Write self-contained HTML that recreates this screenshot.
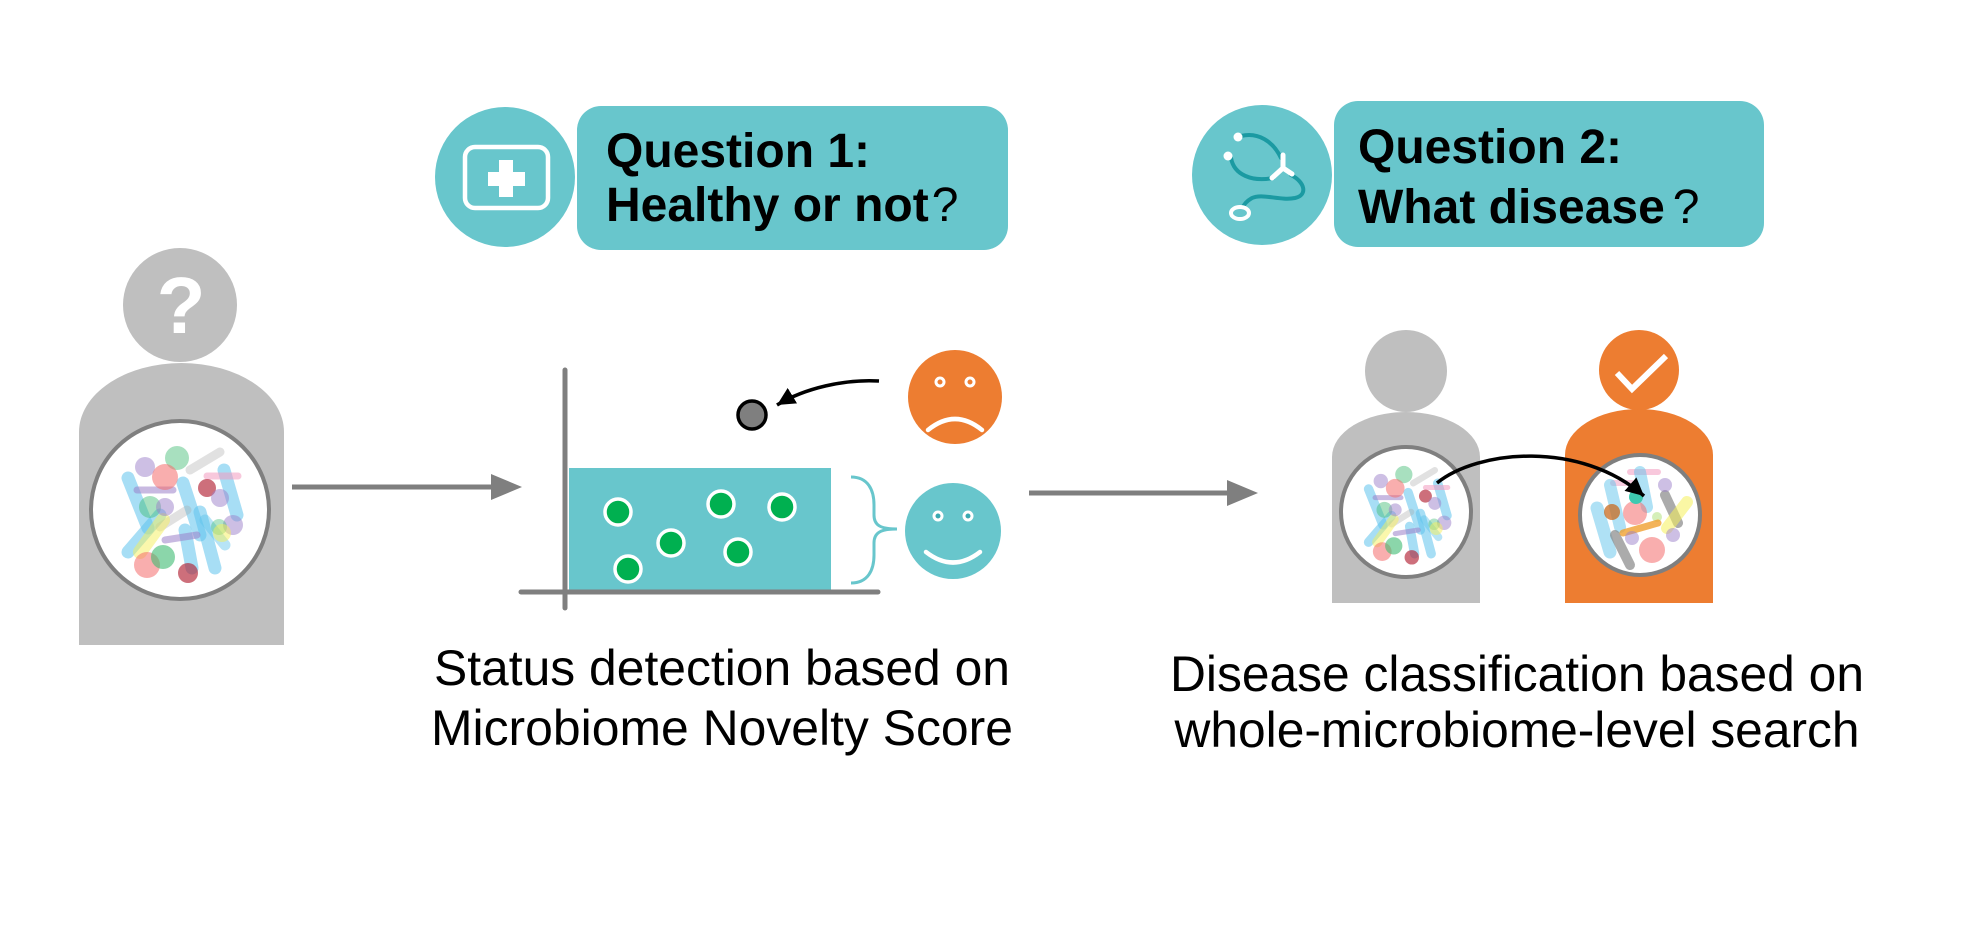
<!DOCTYPE html>
<html>
<head>
<meta charset="utf-8">
<style>
  html,body{margin:0;padding:0;background:#fff;}
  svg{display:block;}
</style>
</head>
<body>
<svg width="1973" height="926" viewBox="0 0 1973 926" xmlns="http://www.w3.org/2000/svg">
  <defs>
    <marker id="ah" viewBox="0 0 10 10" refX="10" refY="5" markerWidth="18" markerHeight="18" markerUnits="userSpaceOnUse" orient="auto">
      <path d="M0,0 L10,5 L0,10 z" fill="#000"/>
    </marker>
    <clipPath id="clipL"><circle cx="180" cy="510" r="88"/></clipPath>
    <clipPath id="clipR"><circle cx="1640" cy="515" r="58"/></clipPath>
    <g id="mic">
      <g stroke-linecap="round" fill="none">
        <line x1="128" y1="478" x2="148" y2="528" stroke="#5fc3ec" stroke-width="13" opacity=".55"/>
        <line x1="128" y1="552" x2="160" y2="515" stroke="#5fc3ec" stroke-width="13" opacity=".55"/>
        <line x1="183" y1="483" x2="200" y2="535" stroke="#5fc3ec" stroke-width="13" opacity=".55"/>
        <line x1="224" y1="470" x2="237" y2="515" stroke="#5fc3ec" stroke-width="13" opacity=".55"/>
        <line x1="185" y1="530" x2="192" y2="568" stroke="#5fc3ec" stroke-width="13" opacity=".55"/>
        <line x1="200" y1="512" x2="215" y2="568" stroke="#5fc3ec" stroke-width="13" opacity=".55"/>
        <line x1="205" y1="520" x2="225" y2="545" stroke="#5fc3ec" stroke-width="11" opacity=".45"/>
        <line x1="190" y1="470" x2="220" y2="452" stroke="#aaaaaa" stroke-width="9" opacity=".35"/>
        <line x1="207" y1="476" x2="238" y2="476" stroke="#f29ac0" stroke-width="7" opacity=".55"/>
        <line x1="137" y1="490" x2="173" y2="490" stroke="#9b7fc9" stroke-width="7" opacity=".55"/>
        <line x1="160" y1="527" x2="187" y2="510" stroke="#aaaaaa" stroke-width="9" opacity=".35"/>
        <line x1="140" y1="552" x2="163" y2="520" stroke="#f5f05a" stroke-width="14" opacity=".5"/>
        <line x1="165" y1="540" x2="197" y2="535" stroke="#9b7fc9" stroke-width="7" opacity=".55"/>
      </g>
      <circle cx="145" cy="467" r="10" fill="#9b7fc9" opacity=".5"/>
      <circle cx="177" cy="458" r="12" fill="#3dbb72" opacity=".45"/>
      <circle cx="165" cy="477" r="13" fill="#f46b6b" opacity=".55"/>
      <circle cx="207" cy="488" r="9" fill="#b22234" opacity=".65"/>
      <circle cx="220" cy="498" r="9" fill="#9b7fc9" opacity=".5"/>
      <circle cx="150" cy="507" r="11" fill="#3dbb72" opacity=".45"/>
      <circle cx="165" cy="507" r="9" fill="#9b7fc9" opacity=".5"/>
      <circle cx="233" cy="525" r="10" fill="#9b7fc9" opacity=".5"/>
      <circle cx="219" cy="527" r="8" fill="#3dbb72" opacity=".4"/>
      <circle cx="222" cy="533" r="9" fill="#f5f05a" opacity=".5"/>
      <circle cx="147" cy="565" r="13" fill="#f46b6b" opacity=".55"/>
      <circle cx="163" cy="557" r="12" fill="#3dbb72" opacity=".6"/>
      <circle cx="188" cy="573" r="10" fill="#b22234" opacity=".65"/>
    </g>
  </defs>

  <!-- ===== Left person ===== -->
  <circle cx="180" cy="305" r="57" fill="#bfbfbf"/>
  <text x="181" y="333" font-family="Liberation Sans, Arial, sans-serif" font-weight="bold" font-size="80" fill="#fff" text-anchor="middle">?</text>
  <path d="M79,645 V432 A102.5,69 0 0 1 284,432 V645 Z" fill="#bfbfbf"/>
  <circle cx="180" cy="510" r="89" fill="#fff" stroke="#7f7f7f" stroke-width="4"/>
  <g clip-path="url(#clipL)"><use href="#mic"/></g>

  <!-- arrow 1 -->
  <line x1="292" y1="487" x2="495" y2="487" stroke="#7f7f7f" stroke-width="5"/>
  <polygon points="491,474 522,487 491,500" fill="#7f7f7f"/>

  <!-- ===== Question 1 ===== -->
  <circle cx="505" cy="177" r="70" fill="#68c6cc"/>
  <rect x="465" y="147" width="83" height="61" rx="10" fill="none" stroke="#fff" stroke-width="4.5"/>
  <rect x="499" y="160" width="14" height="37" fill="#fff"/>
  <rect x="488" y="172" width="37" height="14" fill="#fff"/>
  <rect x="577" y="106" width="431" height="144" rx="24" fill="#68c6cc"/>
  <text font-family="Liberation Sans, Arial, sans-serif" font-weight="bold" font-size="48" fill="#000">
    <tspan x="606" y="167">Question 1:</tspan>
    <tspan x="606" y="221">Healthy or not<tspan font-weight="normal" dx="3">?</tspan></tspan>
  </text>

  <!-- ===== Chart ===== -->
  <rect x="569" y="468" width="262" height="122" fill="#68c6cc"/>
  <line x1="565" y1="370" x2="565" y2="608" stroke="#7f7f7f" stroke-width="5" stroke-linecap="round"/>
  <line x1="521" y1="592" x2="878" y2="592" stroke="#7f7f7f" stroke-width="5" stroke-linecap="round"/>
  <g fill="#00b050" stroke="#fff" stroke-width="3.5">
    <circle cx="618" cy="512" r="13"/>
    <circle cx="721" cy="504" r="13"/>
    <circle cx="782" cy="507" r="13"/>
    <circle cx="671" cy="543" r="13"/>
    <circle cx="738" cy="552" r="13"/>
    <circle cx="628" cy="569" r="13"/>
  </g>
  <circle cx="752" cy="415" r="14" fill="#7f7f7f" stroke="#000" stroke-width="3.5"/>
  <path d="M879,381 C845,379 805,388 777,405" fill="none" stroke="#000" stroke-width="3.5" marker-end="url(#ah)"/>
  <!-- brace -->
  <path d="M851,477 C868,477 874,490 874,505 L874,515 C874,525 880,529 897,529 C880,529 874,533 874,543 L874,555 C874,570 868,583 851,583" fill="none" stroke="#68c6cc" stroke-width="3"/>
  <!-- sad face -->
  <circle cx="955" cy="397" r="47" fill="#ed7d31"/>
  <circle cx="940" cy="382" r="4" fill="#ed7d31" stroke="#fff" stroke-width="3"/>
  <circle cx="970" cy="382" r="4" fill="#ed7d31" stroke="#fff" stroke-width="3"/>
  <path d="M928,430 Q955,408 982,430" fill="none" stroke="#fff" stroke-width="4.5" stroke-linecap="round"/>
  <!-- happy face -->
  <circle cx="953" cy="531" r="48" fill="#68c6cc"/>
  <circle cx="938" cy="516" r="4" fill="#3aa9b1" stroke="#fff" stroke-width="3"/>
  <circle cx="968" cy="516" r="4" fill="#3aa9b1" stroke="#fff" stroke-width="3"/>
  <path d="M926,552 Q953,573 980,552" fill="none" stroke="#fff" stroke-width="4.5" stroke-linecap="round"/>

  <!-- arrow 2 -->
  <line x1="1029" y1="493" x2="1230" y2="493" stroke="#7f7f7f" stroke-width="5"/>
  <polygon points="1227,480 1258,493 1227,506" fill="#7f7f7f"/>

  <!-- ===== Question 2 ===== -->
  <circle cx="1262" cy="175" r="70" fill="#68c6cc"/>
  <g fill="none" stroke="#1b9aa2" stroke-width="4" stroke-linecap="round">
    <path d="M1241,136 C1258,132 1273,141 1281,158"/>
    <path d="M1231,158 C1234,175 1252,182 1273,178"/>
    <path d="M1291,175 C1305,182 1308,195 1295,198 C1280,201 1262,193 1252,198 C1245,202 1243,206 1242,209"/>
  </g>
  <g stroke="#fff" stroke-width="5" stroke-linecap="round" fill="none">
    <path d="M1283,155 L1283,168 L1272,178"/>
    <path d="M1283,168 L1292,174"/>
  </g>
  <circle cx="1238" cy="137" r="4.5" fill="#fff"/>
  <circle cx="1228" cy="156" r="4.5" fill="#fff"/>
  <ellipse cx="1240" cy="213" rx="9" ry="6" fill="#68c6cc" stroke="#fff" stroke-width="4"/>
  <rect x="1334" y="101" width="430" height="146" rx="24" fill="#68c6cc"/>
  <text font-family="Liberation Sans, Arial, sans-serif" font-weight="bold" font-size="48" fill="#000">
    <tspan x="1358" y="163">Question 2:</tspan>
    <tspan x="1358" y="223">What disease<tspan font-weight="normal" dx="8">?</tspan></tspan>
  </text>

  <!-- ===== Gray person (right) ===== -->
  <circle cx="1406" cy="371" r="41" fill="#bfbfbf"/>
  <path d="M1332,603 V457 A74,45 0 0 1 1480,457 V603 Z" fill="#bfbfbf"/>
  <circle cx="1406" cy="512" r="65" fill="#fff" stroke="#7f7f7f" stroke-width="4"/>
  <g transform="translate(1406,512) scale(0.72) translate(-180,-510)">
    <g clip-path="url(#clipL)"><use href="#mic"/></g>
  </g>

  <!-- ===== Orange person ===== -->
  <circle cx="1639" cy="370" r="40" fill="#ed7d31"/>
  <path d="M1617,373 L1632,389 L1666,356" fill="none" stroke="#fff" stroke-width="6"/>
  <path d="M1565,603 V455 A74,46 0 0 1 1713,455 V603 Z" fill="#ed7d31"/>
  <circle cx="1640" cy="515" r="60" fill="#fff" stroke="#7f7f7f" stroke-width="4"/>
  <g clip-path="url(#clipR)">
    <g stroke-linecap="round" fill="none">
      <line x1="1630" y1="472" x2="1658" y2="472" stroke="#f29ac0" stroke-width="6" opacity=".55"/>
      <line x1="1640" y1="472" x2="1647" y2="507" stroke="#5fc3ec" stroke-width="12" opacity=".5"/>
      <line x1="1613" y1="483" x2="1632" y2="483" stroke="#f29ac0" stroke-width="6" opacity=".5"/>
      <line x1="1610" y1="485" x2="1620" y2="527" stroke="#5fc3ec" stroke-width="12" opacity=".5"/>
      <line x1="1597" y1="508" x2="1610" y2="552" stroke="#5fc3ec" stroke-width="13" opacity=".5"/>
      <line x1="1665" y1="495" x2="1678" y2="523" stroke="#888" stroke-width="10" opacity=".7"/>
      <line x1="1687" y1="502" x2="1667" y2="528" stroke="#f5f05a" stroke-width="12" opacity=".55"/>
      <line x1="1615" y1="535" x2="1630" y2="565" stroke="#888" stroke-width="10" opacity=".7"/>
    </g>
    <circle cx="1665" cy="485" r="7" fill="#9b7fc9" opacity=".5"/>
    <circle cx="1612" cy="512" r="8" fill="#c86a1e" opacity=".75"/>
    <circle cx="1635" cy="513" r="12" fill="#f46b6b" opacity=".55"/>
    <circle cx="1657" cy="517" r="5" fill="#b9e58a" opacity=".6"/>
    <line x1="1623" y1="533" x2="1658" y2="523" stroke="#f0a030" stroke-width="7" stroke-linecap="round" opacity=".8"/>
    <circle cx="1632" cy="538" r="7" fill="#9b7fc9" opacity=".5"/>
    <circle cx="1673" cy="535" r="7" fill="#9b7fc9" opacity=".5"/>
    <circle cx="1652" cy="550" r="13" fill="#f46b6b" opacity=".55"/>
    <circle cx="1636" cy="497" r="7" fill="#3ec9b0"/>
  </g>
  <path d="M1437,483 C1478,450 1580,440 1644,496" fill="none" stroke="#000" stroke-width="3.5" marker-end="url(#ah)"/>

  <!-- ===== Captions ===== -->
  <g font-family="Liberation Sans, Arial, sans-serif" font-size="50" fill="#000" text-anchor="middle">
    <text x="722" y="685" textLength="576" lengthAdjust="spacingAndGlyphs">Status detection based on</text>
    <text x="722" y="745" textLength="582" lengthAdjust="spacingAndGlyphs">Microbiome Novelty Score</text>
    <text x="1517" y="691" textLength="694" lengthAdjust="spacingAndGlyphs">Disease classification based on</text>
    <text x="1517" y="747" textLength="685" lengthAdjust="spacingAndGlyphs">whole-microbiome-level search</text>
  </g>
</svg>
</body>
</html>
